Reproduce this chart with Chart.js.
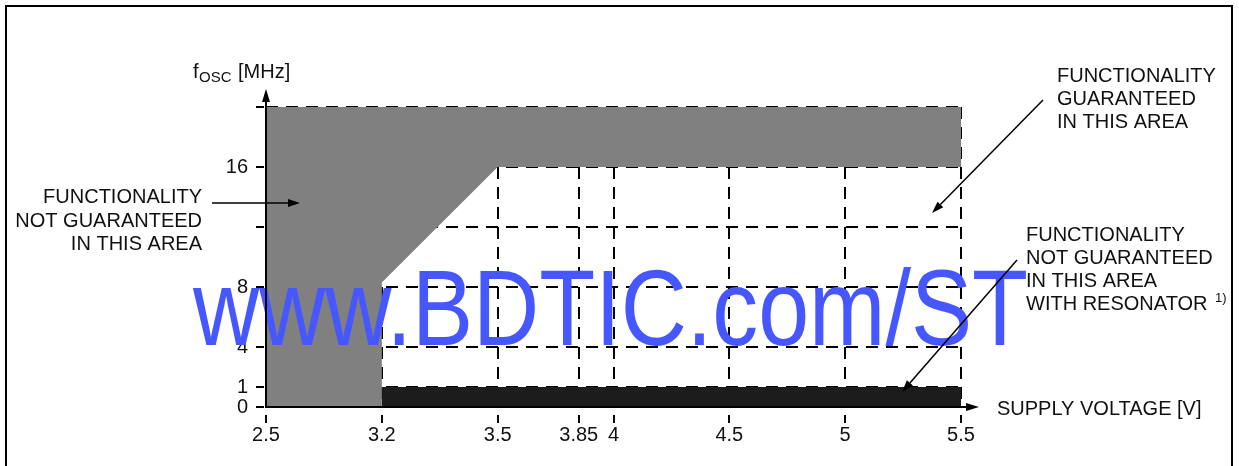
<!DOCTYPE html>
<html>
<head>
<meta charset="utf-8">
<script src="https://cdn.jsdelivr.net/npm/chart.js@4.4.0/dist/chart.umd.min.js"></script>
<style>
  body { margin: 0; background: #fff; }
  #wrap { width: 1239px; height: 466px; position: relative; }
</style>
</head>
<body>
<div id="wrap"><canvas id="js--chart"></canvas></div>
<script>
// axis breakpoints, drawn at equal steps like in the datasheet
const xBreaks = [2.5, 3.2, 3.5, 4, 4.5, 5, 5.5];
const xBreakPos = [0, 1, 2, 3, 4, 5, 6];
const yBreaks = [0, 1, 4, 8, 12, 16, 20];
const yBreakPos = [0, 1, 3, 6, 9, 12, 15];

const xTickValues = [2.5, 3.2, 3.5, 3.85, 4, 4.5, 5, 5.5];
const xTickLabels = ["2.5", "3.2", "3.5", "3.85", "4", "4.5", "5", "5.5"];
const yTickValues = [0, 1, 4, 8, 12, 16, 20];
const yTickLabels = ["0", "1", "4", "8", "", "16", ""];

// lower edge of the "not guaranteed" area (V, MHz), filled up to fMax
const limitVoltage = [2.5, 3.2, 3.2, 3.5, 5.5];
const limitFreq = [0, 0, 8.3, 16, 16];
const fMax = 20;

// resonator band
const resonatorVoltage = [3.2, 5.5];
const resonatorFreq = [1, 1];

function toPos(v, breaks, pos) {
    for (let i = 0; i < breaks.length - 1; i++) {
        if (v <= breaks[i + 1]) {
            return pos[i] + (v - breaks[i]) / (breaks[i + 1] - breaks[i]) * (pos[i + 1] - pos[i]);
        }
    }
    return pos[pos.length - 1];
}
const toX = v => toPos(v, xBreaks, xBreakPos);
const toY = f => toPos(f, yBreaks, yBreakPos);

const FONT = "Liberation Sans";
Chart.defaults.font.family = FONT;
Chart.defaults.color = "#111";

function arrow(ctx, x1, y1, x2, y2, len, half) {
    const a = Math.atan2(y2 - y1, x2 - x1);
    const bx = x2 - Math.cos(a) * len, by = y2 - Math.sin(a) * len;
    ctx.beginPath();
    ctx.moveTo(x1, y1);
    ctx.lineTo(bx, by);
    ctx.stroke();
    ctx.beginPath();
    ctx.moveTo(x2, y2);
    ctx.lineTo(bx + Math.sin(a) * half, by - Math.cos(a) * half);
    ctx.lineTo(bx - Math.sin(a) * half, by + Math.cos(a) * half);
    ctx.closePath();
    ctx.fill();
}

function lines(ctx, arr, x, y, step, align) {
    ctx.textAlign = align;
    arr.forEach((t, i) => ctx.fillText(t, x, y + i * step));
}

const drawing = {
    id: "drawing",
    afterDatasetsDraw(chart) {
        // watermark sits under the grid and the texts
        const ctx = chart.ctx;
        ctx.save();
        ctx.font = "107px " + FONT;
        ctx.fillStyle = "#4657ff";
        ctx.textBaseline = "alphabetic";
        ctx.textAlign = "left";
        const w = ctx.measureText("www.BDTIC.com/ST").width;
        ctx.translate(193, 345);
        ctx.scale(835 / w, 1);
        ctx.fillText("www.BDTIC.com/ST", 0, 0);
        ctx.restore();
    },
    afterDraw(chart) {
        const ctx = chart.ctx;
        const xs = chart.scales.x, ys = chart.scales.y;
        const x0 = xs.getPixelForValue(0), y0 = ys.getPixelForValue(0);
        const x1 = xs.getPixelForValue(6), y1 = ys.getPixelForValue(15);
        ctx.save();
        ctx.strokeStyle = "#000";
        ctx.fillStyle = "#000";

        // frame
        ctx.lineWidth = 2;
        ctx.beginPath();
        ctx.moveTo(6, 466);
        ctx.lineTo(6, 6);
        ctx.lineTo(1232, 6);
        ctx.lineTo(1232, 466);
        ctx.stroke();

        // axes with arrows
        ctx.lineWidth = 2;
        arrow(ctx, x0, y0 + 1, x0, y1 - 18, 13, 4);
        arrow(ctx, x0 - 1, y0, x1 + 18, y0, 13, 4);

        // axis titles
        ctx.fillStyle = "#111";
        ctx.textBaseline = "alphabetic";
        ctx.font = "20px " + FONT;
        ctx.textAlign = "left";
        ctx.fillText("f", 193, 78);
        ctx.fillText("[MHz]", 238, 78);
        ctx.font = "15px " + FONT;
        ctx.fillText("OSC", 199, 82);
        ctx.font = "20px " + FONT;
        ctx.fillText("SUPPLY VOLTAGE [V]", 997, 415);

        // notes
        lines(ctx, ["FUNCTIONALITY", "NOT GUARANTEED", "IN THIS AREA"], 202, 203, 23.5, "right");
        lines(ctx, ["FUNCTIONALITY", "GUARANTEED", "IN THIS AREA"], 1057, 82, 23, "left");
        lines(ctx, ["FUNCTIONALITY", "NOT GUARANTEED", "IN THIS AREA", "WITH RESONATOR"], 1026, 241, 23, "left");
        ctx.font = "13px " + FONT;
        ctx.textAlign = "left";
        ctx.fillText("1)", 1215, 302);

        ctx.fillStyle = "#000";
        ctx.lineWidth = 1.5;
        arrow(ctx, 212, 203, 300, 203, 12, 4);
        arrow(ctx, 1043, 100, 932, 213, 12, 4);
        arrow(ctx, 1017, 260, 902, 392, 12, 4);
        ctx.restore();
    }
};

const gridOpts = {
    color: "#000",
    lineWidth: 2,
    drawTicks: true,
    tickColor: "#000",
    tickWidth: 2
};

const config = {
    type: "line",
    data: {
        datasets: [
            {
                label: "not guaranteed",
                data: limitVoltage.map((v, i) => ({ x: toX(v), y: toY(limitFreq[i]) })),
                backgroundColor: "#808080",
                borderColor: "rgba(0,0,0,0)",
                borderWidth: 0,
                pointRadius: 0,
                fill: "end"
            },
            {
                label: "resonator",
                data: resonatorVoltage.map((v, i) => ({ x: toX(v), y: toY(resonatorFreq[i]) })),
                backgroundColor: "#1c1c1c",
                borderColor: "rgba(0,0,0,0)",
                borderWidth: 0,
                pointRadius: 0,
                fill: "origin"
            }
        ]
    },
    options: {
        responsive: true,
        maintainAspectRatio: false,
        animation: false,
        layout: { padding: { left: 0, right: 278, top: 107, bottom: 0 } },
        plugins: { legend: { display: false }, tooltip: { enabled: false } },
        scales: {
            x: {
                type: "linear",
                min: toX(xBreaks[0]),
                max: toX(xBreaks[xBreaks.length - 1]),
                z: 1,
                border: { display: false, dash: [12, 8] },
                grid: Object.assign({}, gridOpts, { tickLength: 16, tickBorderDash: [0, 8, 8, 100] }),
                afterBuildTicks: s => { s.ticks = xTickValues.map(v => ({ value: toX(v) })); },
                afterFit: s => { s.height = 59; },
                ticks: {
                    autoSkip: false,
                    maxRotation: 0,
                    padding: 0,
                    color: "#111",
                    font: { size: 20 },
                    callback: (val, i) => xTickLabels[i]
                }
            },
            y: {
                type: "linear",
                min: toY(0),
                max: toY(fMax),
                z: 1,
                border: { display: false, dash: [12, 8] },
                grid: Object.assign({}, gridOpts, { tickLength: 10, tickBorderDash: [8, 100] }),
                afterBuildTicks: s => { s.ticks = yTickValues.map(v => ({ value: toY(v) })); },
                afterFit: s => { s.width = 266; },
                ticks: {
                    autoSkip: false,
                    padding: 8,
                    color: "#111",
                    font: { size: 20 },
                    callback: (val, i) => yTickLabels[i]
                }
            }
        }
    },
    plugins: [drawing]
};

new Chart(document.getElementById("js--chart"), config);
</script>
</body>
</html>
